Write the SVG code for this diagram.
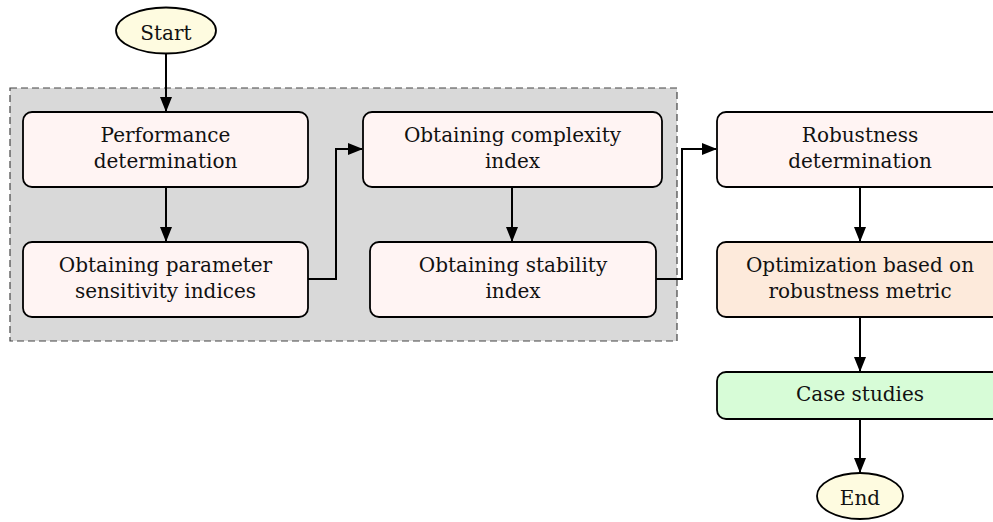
<svg xmlns="http://www.w3.org/2000/svg" width="993" height="522" viewBox="0 0 993 522">
  <style>
    .box { stroke: #000; stroke-width: 1.8; }
    .step { fill: #fff4f3; }
    .opt { fill: #fdeadb; }
    .case { fill: #d7fcd7; }
    .term { fill: #fefbe0; stroke: #000; stroke-width: 1.8; }
    text { font-family: 'DejaVu Serif', 'Liberation Serif', serif; font-size: 20px; fill: #111; text-anchor: middle; }
    .conn { fill: none; stroke: #000; stroke-width: 2; marker-end: url(#arrow); }
  </style>
  <defs>
    <marker id="arrow" markerUnits="userSpaceOnUse" markerWidth="15" markerHeight="12" refX="14" refY="6" orient="auto">
      <path d="M0,0 L15,6 L0,12 Z" fill="#000"/>
    </marker>
  </defs>
  <rect width="993" height="522" fill="#fff"/>

  <!-- dashed grouping panel -->
  <rect id="panel" x="10" y="88" width="667" height="253" fill="#d9d9d9" stroke="#444" stroke-width="1.2" stroke-dasharray="7,4"/>

  <g id="connectors">
    <path class="conn" d="M166,54 V111"/>
    <path class="conn" d="M166,187 V241"/>
    <path class="conn" d="M308,279 H336 V149 H362"/>
    <path class="conn" d="M512,187 V241"/>
    <path class="conn" d="M656,279 H682 V149 H716"/>
    <path class="conn" d="M860,187 V241"/>
    <path class="conn" d="M860,317 V371"/>
    <path class="conn" d="M860,419 V472"/>
  </g>

  <g id="start">
    <ellipse class="term" cx="166" cy="30.5" rx="50" ry="23"/>
    <text x="166" y="39.5">Start</text>
  </g>

  <g id="performance">
    <rect class="box step" x="23" y="112" width="285" height="75" rx="9"/>
    <text x="165.5" y="141.5">Performance</text>
    <text x="165.5" y="167.5">determination</text>
  </g>

  <g id="sensitivity">
    <rect class="box step" x="23" y="242" width="285" height="75" rx="9"/>
    <text x="165.5" y="271.5">Obtaining parameter</text>
    <text x="165.5" y="297.5">sensitivity indices</text>
  </g>

  <g id="complexity">
    <rect class="box step" x="363" y="112" width="299" height="75" rx="9"/>
    <text x="512.5" y="141.5">Obtaining complexity</text>
    <text x="512.5" y="167.5">index</text>
  </g>

  <g id="stability">
    <rect class="box step" x="370" y="242" width="286" height="75" rx="9"/>
    <text x="513" y="271.5">Obtaining stability</text>
    <text x="513" y="297.5">index</text>
  </g>

  <g id="robustness">
    <rect class="box step" x="717" y="112" width="286" height="75" rx="9"/>
    <text x="860" y="141.5">Robustness</text>
    <text x="860" y="167.5">determination</text>
  </g>

  <g id="optimization">
    <rect class="box opt" x="717" y="242" width="286" height="75" rx="9"/>
    <text x="860" y="271.5">Optimization based on</text>
    <text x="860" y="297.5">robustness metric</text>
  </g>

  <g id="cases">
    <rect class="box case" x="717" y="372" width="286" height="47" rx="9"/>
    <text x="860" y="401">Case studies</text>
  </g>

  <g id="end">
    <ellipse class="term" cx="860" cy="496" rx="43" ry="23"/>
    <text x="860" y="505">End</text>
  </g>
</svg>
